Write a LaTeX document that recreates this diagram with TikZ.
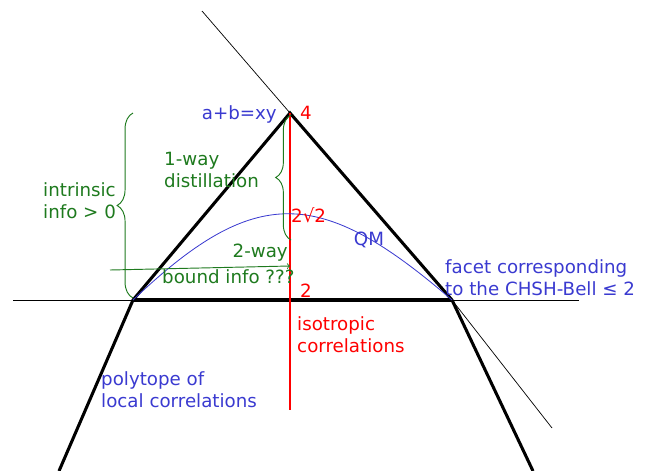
\documentclass[tikz,border=0pt]{standalone}
\usepackage{fontspec}
\setmainfont{DejaVu Sans}
\usepackage{xcolor}
\usepackage{tikz}
\usetikzlibrary{decorations.pathreplacing}
\definecolor{qmblue}{HTML}{3A3AD0}
\definecolor{infogreen}{HTML}{1E7A1E}
\definecolor{isored}{HTML}{FF0000}
\tikzset{
  polytope edge/.style={draw=black,line width=2.6pt,line join=miter},
  guide/.style={draw=black,line width=0.6pt},
  qm curve/.style={draw=qmblue,line width=0.7pt},
  iso line/.style={draw=isored,line width=1.4pt},
  info brace/.style={draw=infogreen,line width=0.8pt,decorate,
    decoration={brace,amplitude=#1}},
  info arrow/.style={draw=infogreen,line width=0.8pt,->},
  blue label/.style={text=qmblue,font=\fontsize{15.5}{18.7}\selectfont,
    align=left,inner sep=0pt},
  red label/.style={text=isored,font=\fontsize{15.5}{18.7}\selectfont,
    align=left,inner sep=0pt},
  green label/.style={text=infogreen,font=\fontsize{15.5}{18.7}\selectfont,
    align=left,inner sep=0pt}
}

\begin{document}
\begin{tikzpicture}[x=0.85pt,y=-0.85pt]
  \useasboundingbox (0,0) rectangle (664,471);
  \coordinate (apex) at (290,113);
  \coordinate (lcorner) at (133,300);
  \coordinate (rcorner) at (452,300);
  \coordinate (lfoot) at (59,471);
  \coordinate (rfoot) at (533,471);
  \coordinate (hstart) at (13,300);
  \coordinate (hend) at (579,300);
  \coordinate (dstart) at (202,11);
  \coordinate (dend) at (552,428);
  \coordinate (isobot) at (290,410);
  % thin guide lines
  \draw[guide] (hstart) -- (hend);
  \draw[guide] (dstart) -- (apex) -- (rcorner) -- (dend);
  % polytope
  \draw[polytope edge] (lfoot) -- (lcorner) -- (apex) -- (rcorner) -- (rfoot);
  \draw[polytope edge] (lcorner) -- (rcorner);
  \draw[iso line] (apex) -- (isobot);
  \draw[qm curve] (lcorner) .. controls (255,184) and (320,186) .. (rcorner);
  % braces and arrow
  \coordinate (bigbot) at (133,298);
  \coordinate (bigtop) at (133,113);
  \draw[info brace=13.5pt] (bigbot) -- (bigtop);
  \coordinate (onebot) at (291,240);
  \coordinate (onetop) at (291,115);
  \draw[info brace=13pt] (onebot) -- (onetop);
  \coordinate (twostart) at (110,270);
  \coordinate (twoend) at (290,266);
  \draw[info arrow] (twostart) -- (twoend);
  % labels
  \node[blue label,anchor=east] (game) at (277,114) {a+b=xy};
  \node[red label,anchor=west] (max) at (300,113) {4};
  \node[red label,anchor=west] (tsirelson) at (291,215) {2√2};
  \node[red label,anchor=west] (local) at (300,291) {2};
  \node[blue label] (qm) at (369,240) {QM};
  \node[red label,anchor=west] (iso) at (297,335) {isotropic\\correlations};
  \node[blue label,anchor=west] (facet) at (445,278)
    {facet corresponding\\to the CHSH-Bell ≤ 2};
  \node[blue label,anchor=west] (polytope) at (101,390)
    {polytope of\\local correlations};
  \node[green label,anchor=west] (intrinsic) at (43,201)
    {intrinsic\\info > 0};
  \node[green label,anchor=west] (oneway) at (164,170)
    {1-way\\distillation};
  \node[green label,anchor=east] (twoway) at (288,253) {2-way};
  \node[green label,anchor=west] (bound) at (162,277) {bound info ???};
\end{tikzpicture}
\end{document}
